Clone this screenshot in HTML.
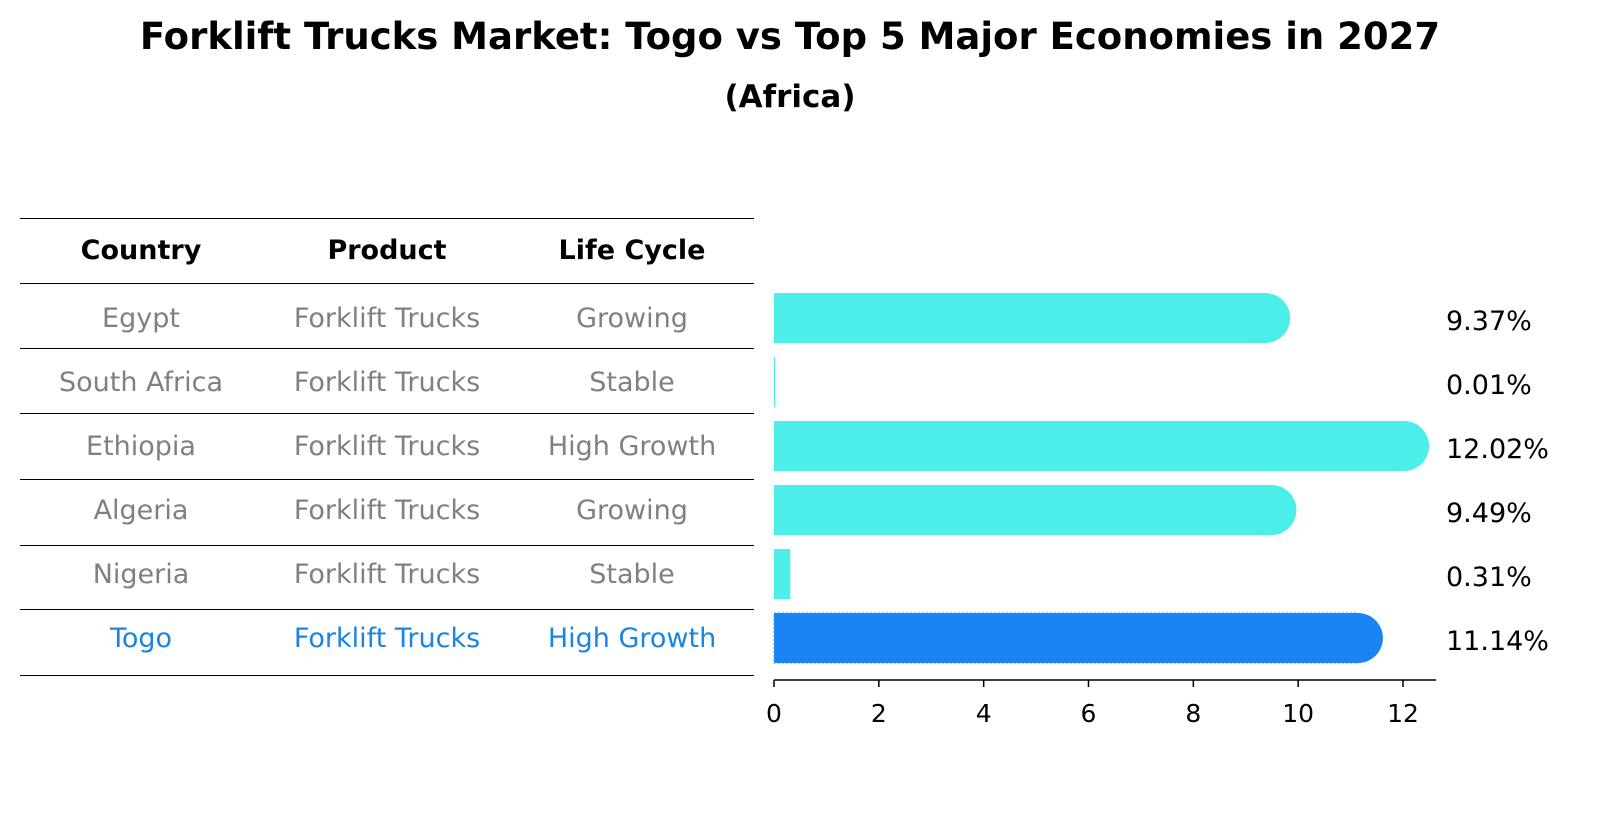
<!DOCTYPE html>
<html><head><meta charset="utf-8"><style>
body{margin:0;background:#fff;width:1604px;height:823px;overflow:hidden;font-family:"Liberation Sans","DejaVu Sans",sans-serif}
</style></head><body>
<svg width="1604" height="823" xmlns="http://www.w3.org/2000/svg" font-family="DejaVu Sans, Liberation Sans, sans-serif">
<text x="790" y="49" text-anchor="middle" font-size="37" font-weight="bold">Forklift Trucks Market: Togo vs Top 5 Major Economies in 2027</text>
<text x="790" y="107" text-anchor="middle" font-size="31" font-weight="bold">(Africa)</text>
<g id="table"></g>
<g id="bars"></g>
</svg>
<script>
const countries=["Egypt","South Africa","Ethiopia","Algeria","Nigeria","Togo"];
const products=["Forklift Trucks","Forklift Trucks","Forklift Trucks","Forklift Trucks","Forklift Trucks","Forklift Trucks"];
const lifeCycles=["Growing","Stable","High Growth","Growing","Stable","High Growth"];
const values=[9.37,0.01,12.02,9.49,0.31,11.14];
const ticks=[0,2,4,6,8,10,12];
const NS="http://www.w3.org/2000/svg";
function mk(p,t,a){const e=document.createElementNS(NS,t);for(const k in a)e.setAttribute(k,a[k]);p.appendChild(e);return e;}
const tb=document.getElementById('table'), bg=document.getElementById('bars');
const lineYs=[218,283,348,413,479,545,609,675];
lineYs.forEach(y=>{const l=mk(tb,'line',{x1:20,x2:754,y1:y+0.5,y2:y+0.5,stroke:'#000','stroke-width':1});

});
const cx=[141,387,632];
["Country","Product","Life Cycle"].forEach((h,i)=>{const t=mk(tb,'text',{x:cx[i],y:259,'text-anchor':'middle','font-size':27,'font-weight':'bold'});t.textContent=h;

});
const rowY=i=>318+i*64;
countries.forEach((c,i)=>{const col=c==="Togo"?'#1a84e0':'#808080';
[c,products[i],lifeCycles[i]].forEach((v,j)=>{const t=mk(tb,'text',{x:cx[j],y:rowY(i)+9,'text-anchor':'middle','font-size':27,fill:col});t.textContent=v;

});});
const x0=774, sc=(1403-774)/12, xs=v=>x0+v*sc, bh=50;
values.forEach((v,i)=>{const togo=countries[i]==="Togo";const col=togo?'#1a84f4':'#4beee8';const y=rowY(i);
const w=Math.max(xs(v)-x0,1);
const r=mk(bg,'rect',{x:x0,y:y-bh/2,width:w,height:bh,fill:col});
if(togo){r.setAttribute('stroke','#3a9af8');r.setAttribute('stroke-dasharray','2 2');}


if(w>bh/2){const c=mk(bg,'circle',{cx:xs(v),cy:y,r:bh/2,fill:col});

}
const t=mk(bg,'text',{x:1446,y:y+12,'font-size':27});t.textContent=v.toFixed(2)+'%';

});
const ax=mk(bg,'line',{x1:774,x2:1436,y1:680,y2:680,stroke:'#000','stroke-width':1.5});


ticks.forEach(v=>{const l=mk(bg,'line',{x1:xs(v),x2:xs(v),y1:680,y2:687,stroke:'#000','stroke-width':1.5});


const t=mk(bg,'text',{x:xs(v),y:722,'text-anchor':'middle','font-size':25});t.textContent=v;

});
</script>
</body></html>
